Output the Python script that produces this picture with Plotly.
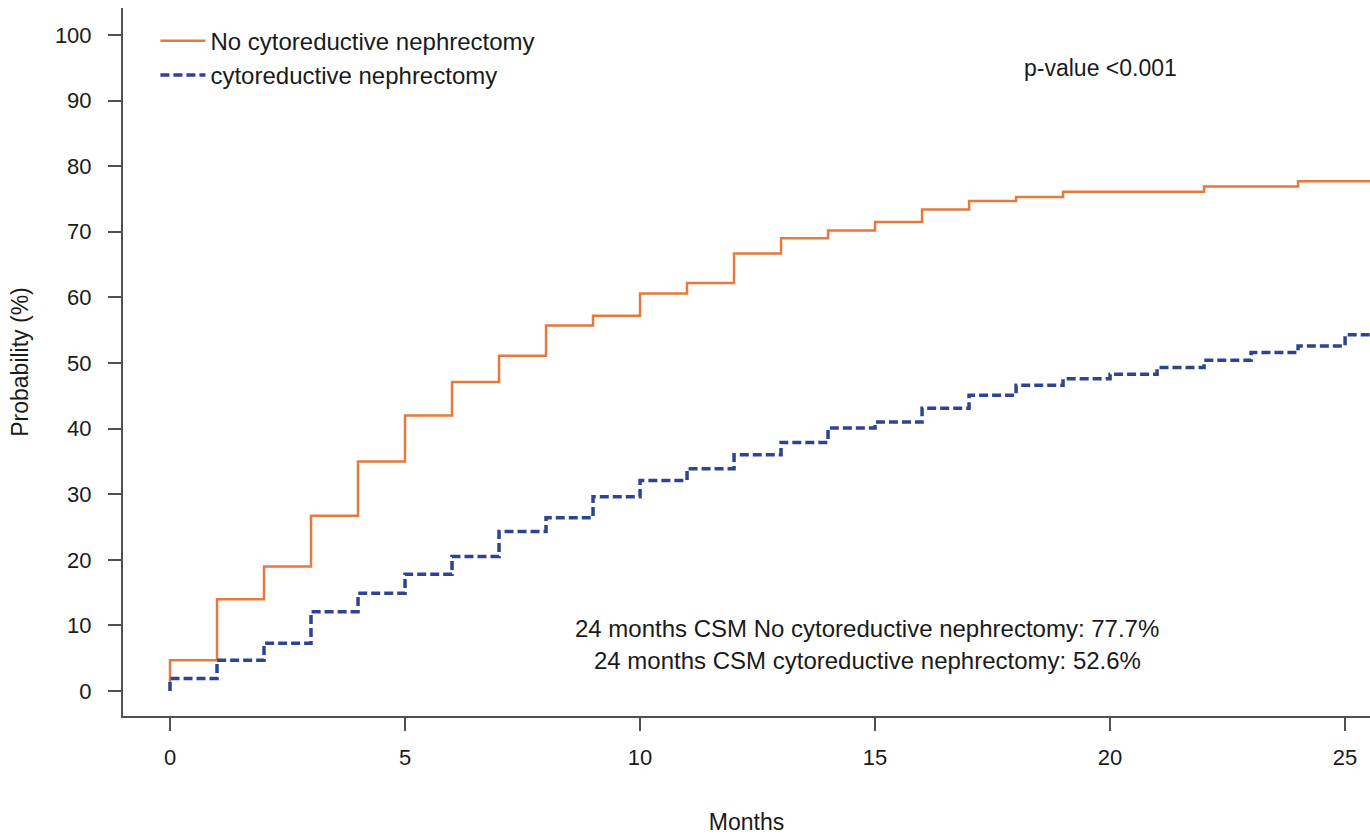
import plotly.graph_objects as go

# Data: step times (months) and cumulative incidence (%)
months = [0, 0, 1, 2, 3, 4, 5, 6, 7, 8, 9, 10, 11, 12, 13, 14, 15, 16, 17, 18, 19, 20, 21, 22, 23, 24, 25, 26]
no_cn = [0, 4.7, 14.0, 19.0, 26.7, 35.0, 42.0, 47.1, 51.1, 55.7, 57.2, 60.6, 62.2, 66.7, 69.0, 70.2,
         71.5, 73.4, 74.7, 75.3, 76.1, 76.1, 76.1, 76.9, 76.9, 77.7, 77.7, 77.7]
cn = [0, 1.9, 4.7, 7.3, 12.1, 14.9, 17.8, 20.5, 24.3, 26.4, 29.6, 32.1, 33.9, 36.0, 37.9, 40.1,
      41.0, 43.1, 45.1, 46.6, 47.6, 48.3, 49.3, 50.4, 51.6, 52.6, 54.3, 54.3]

x_ticks = [0, 5, 10, 15, 20, 25]
y_ticks = [0, 10, 20, 30, 40, 50, 60, 70, 80, 90, 100]
series_names = ["No cytoreductive nephrectomy", "cytoreductive nephrectomy"]
note_p = "p-value <0.001"
note_1 = "24 months CSM No cytoreductive nephrectomy: 77.7%"
note_2 = "24 months CSM cytoreductive nephrectomy: 52.6%"

FONT = "Liberation Sans, Arial, Helvetica, sans-serif"
ORANGE = "#E5793F"
BLUE = "#2D4490"
AXIS = "#505050"
TXT = "#1a1a1a"

fig = go.Figure()
fig.add_trace(go.Scatter(x=months, y=no_cn, mode="lines", line_shape="hv",
                         name=series_names[0], line=dict(color=ORANGE, width=2.5)))
fig.add_trace(go.Scatter(x=months, y=cn, mode="lines", line_shape="hv",
                         name=series_names[1], line=dict(color=BLUE, width=3.5, dash="9px,4px")))

axis_common = dict(showline=True, linecolor=AXIS, linewidth=2, ticks="outside", ticklen=13,
                   tickwidth=2, tickcolor=AXIS, showgrid=False, zeroline=False,
                   tickfont=dict(family=FONT, size=22, color=TXT))

fig.update_xaxes(range=[-1, 25.53], tickvals=x_ticks, ticklabelstandoff=8,
                 title=dict(text="Months", standoff=48, font=dict(family=FONT, size=23, color=TXT)),
                 **axis_common)
fig.update_yaxes(range=[-3.8, 104.1], tickvals=y_ticks, ticklabelstandoff=12,
                 title=dict(text="Probability (%)", standoff=20, font=dict(family=FONT, size=23, color=TXT)),
                 **axis_common)

fig.add_annotation(x=19.8, y=95.0, xref="x", yref="y", text=note_p, showarrow=False,
                   font=dict(family=FONT, size=23, color=TXT))
fig.add_annotation(x=14.83, y=9.6, xref="x", yref="y", text=note_1, showarrow=False,
                   font=dict(family=FONT, size=24, color=TXT))
fig.add_annotation(x=14.83, y=4.7, xref="x", yref="y", text=note_2, showarrow=False,
                   font=dict(family=FONT, size=24, color=TXT))

fig.update_layout(
    width=1370, height=835,
    margin=dict(l=123, r=0, t=8, b=117),
    paper_bgcolor="white", plot_bgcolor="white",
    font=dict(family=FONT, size=22, color=TXT),
    legend=dict(x=0.026, y=0.985, xanchor="left", yanchor="top", itemwidth=45,
                bgcolor="rgba(0,0,0,0)", font=dict(family=FONT, size=24, color=TXT)),
)

fig.write_html("out.html")
